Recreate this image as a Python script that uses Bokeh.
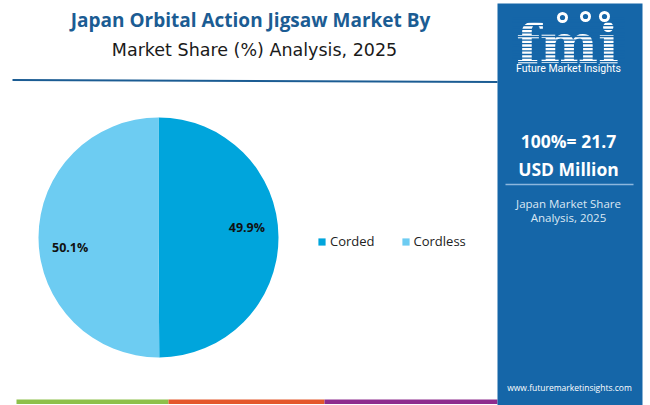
import math
from bokeh.plotting import figure
from bokeh.models import Range1d, ColumnDataSource, Legend, LegendItem
from bokeh.core.properties import value
from bokeh.embed import file_html
from bokeh.resources import INLINE

# ---------------- data ----------------
categories = ["Corded", "Cordless"]
shares = [49.9, 50.1]
slice_colors = ["#00A5DC", "#6DCCF2"]

title_line1 = "Japan Orbital Action Jigsaw Market By"
title_line2 = "Market Share (%) Analysis, 2025"
total_line1 = "100%= 21.7"
total_line2 = "USD Million"
side_caption = ["Japan Market Share", "Analysis, 2025"]
brand = "Future Market Insights"
website = "www.futuremarketinsights.com"

# ---------------- styling ----------------
PANEL = "#1566A8"
TITLE_C = "#1B5C93"
FONT = "Open Sans"

W, H = 650, 405


def Y(yref):
    return H - yref


p = figure(width=W, height=H, x_range=Range1d(0, W), y_range=Range1d(0, H),
           output_backend="svg", toolbar_location=None,
           x_axis_location=None, y_axis_location=None, min_border=0)
p.grid.visible = False
p.outline_line_color = None
p.background_fill_color = "white"
p.border_fill_color = "white"

# ---------------- titles ----------------
p.text(x=[250], y=[Y(19.5)], text=[title_line1], text_font=value(FONT),
       text_font_style="bold", text_font_size="19px", text_color=TITLE_C,
       text_align="center", text_baseline="middle")
p.text(x=[254], y=[Y(49.2)], text=[title_line2], text_font=value("DejaVu Sans"),
       text_font_size="17.5px", text_color="#1a1a1a",
       text_align="center", text_baseline="middle")
p.line(x=[12, 497], y=[Y(79.5), Y(81.5)], line_color=TITLE_C, line_width=2)

# ---------------- pie ----------------
cx, cy, r = 158, Y(237), 120
total = sum(shares)
starts, ends, mids = [], [], []
cum = 0.0
for s in shares:
    a0 = math.pi / 2 - 2 * math.pi * cum / total
    cum += s
    a1 = math.pi / 2 - 2 * math.pi * cum / total
    starts.append(a0)
    ends.append(a1)
    mids.append((a0 + a1) / 2)

src = ColumnDataSource(dict(cat=categories, share=shares, start=starts,
                            end=ends, color=slice_colors))
wr = p.wedge(x=cx, y=cy, radius=r, start_angle="start", end_angle="end",
             direction="clock", fill_color="color", line_color=None,
             source=src)

lab_r, lab_rot = 89, 0.115
lx = [cx + lab_r * math.cos(m + lab_rot) for m in mids]
ly = [cy + lab_r * math.sin(m + lab_rot) for m in mids]
p.text(x=lx, y=ly, text=[f"{s:.1f}%" for s in shares], text_font=value(FONT),
       text_font_style="bold", text_font_size="12.5px", text_color="#111111",
       text_align="center", text_baseline="middle")

legend = Legend(items=[LegendItem(label=c, renderers=[wr], index=i)
                       for i, c in enumerate(categories)],
                orientation="horizontal", location=(317, 155),
                glyph_width=9, glyph_height=9, label_standoff=4, spacing=26,
                padding=0, margin=0, label_text_font=FONT,
                label_text_font_size="13px", label_text_color="#222222",
                border_line_color=None, background_fill_alpha=0)
p.add_layout(legend)

# ---------------- bottom stripe ----------------
p.quad(left=[16, 168, 324], right=[168, 324, 497], bottom=[Y(403.5)] * 3,
       top=[Y(399)] * 3, fill_color=["#8DC04A", "#E4582C", "#8E2C8E"],
       line_color=None)

# ---------------- right panel ----------------
p.quad(left=[497], right=[642], bottom=[Y(405)], top=[Y(3)],
       fill_color=PANEL, line_color=None)

# logo
p.text(x=[567], y=[Y(43)], text=["fmi"], text_font=value("DejaVu Serif"),
       text_font_style="bold", text_font_size="55px", text_color="white",
       text_align="center", text_baseline="middle")
stripe_y = [Y(18 + 3.6 * k) for k in range(13)]
p.segment(x0=[512] * len(stripe_y), x1=[624] * len(stripe_y), y0=stripe_y,
          y1=stripe_y, line_color=PANEL, line_width=1.3)
p.circle(x=[562, 585, 604], y=[Y(17), Y(16), Y(16)], radius=5.5,
         fill_color="white", line_color=None)
p.circle(x=[562, 585, 604], y=[Y(17), Y(16), Y(16)], radius=2.6,
         fill_color=PANEL, line_color=None)
p.text(x=[568], y=[Y(68)], text=[brand], text_font=value("Roboto"),
       text_font_size="10.5px", text_color="white",
       text_align="center", text_baseline="middle")

p.text(x=[568, 568], y=[Y(140), Y(168)], text=[total_line1, total_line2],
       text_font=value(FONT), text_font_style="bold", text_font_size="17.5px",
       text_color="white", text_align="center", text_baseline="middle")
p.line(x=[505, 633], y=[Y(184), Y(184)], line_color="#8DB7DD", line_width=1.5)
p.text(x=[568, 568], y=[Y(203), Y(217)], text=side_caption,
       text_font=value(FONT), text_font_size="11.5px", text_color="#DCE8F4",
       text_align="center", text_baseline="middle")
p.text(x=[569], y=[Y(387)], text=[website], text_font=value(FONT),
       text_font_size="8.5px", text_color="white",
       text_align="center", text_baseline="middle")

open("out.html", "w").write(file_html(p, INLINE))
